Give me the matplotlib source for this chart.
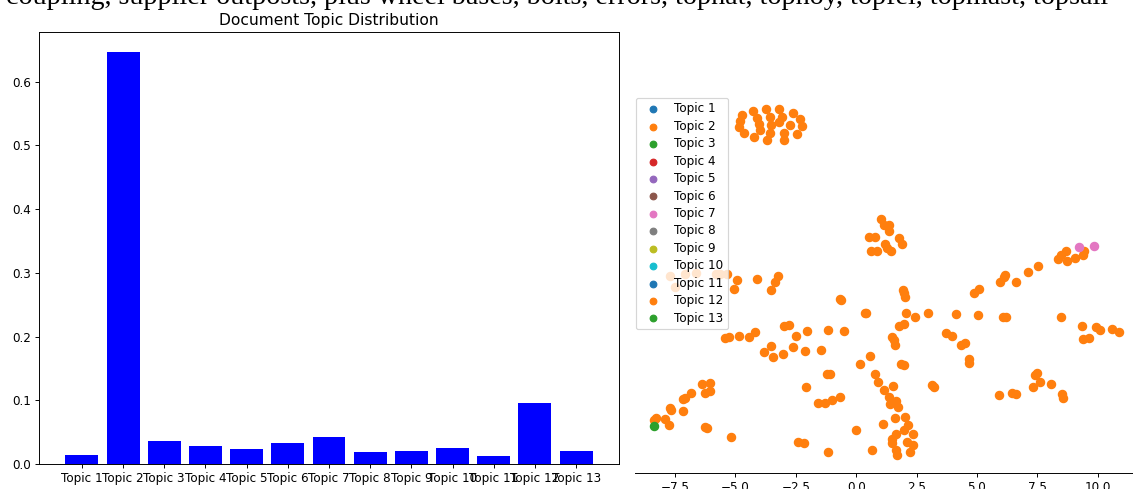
import numpy as np
import matplotlib
matplotlib.use("Agg")
import matplotlib.pyplot as plt
from matplotlib.ticker import MultipleLocator

# topic weights for the document
topics = [f"Topic {i}" for i in range(1, 14)]
weights = [0.0141, 0.6463, 0.0361, 0.0277, 0.0230, 0.0335, 0.0419,
           0.0188, 0.0204, 0.0246, 0.0126, 0.0962, 0.0204]

# 2-d embedding of the documents, grouped by dominant topic
topic2_x = [
    -4.73, -4.29, -3.75, -3.20, -2.62, -2.31, -2.24, -2.44, -3.00, -3.00, -2.76, -3.06,
    -3.20, -3.59, -3.51, -3.55, -3.69, -4.22, -4.64, -4.84, -4.80, -4.09, -4.04, -4.00,
    1.04, 1.16, 1.35, 1.34, 0.54, 0.77, 1.77, 1.89, 1.21, 1.27, 1.45, 0.63, 0.87,
    8.68, 8.47, 8.34, 8.71, 9.07, 9.41, 9.45, 7.51, 7.11, 6.18, 6.13, 5.94, 6.63, 5.07, 4.86,
    -7.70, -7.49, -7.08, -6.63, -5.80, -5.66, -5.34, -4.94, -5.08, -4.09, -3.23, -3.37, -3.53,
    -0.69, -0.62, 1.93, 1.96, 2.03, 0.35, 0.41, 2.08, 2.43, 2.98, 4.14, 5.04, 6.06, 6.20, 8.47,
    9.33, 9.91, 10.10, 10.61, 10.89, 9.41, 9.62,
    -3.00, -2.79, -2.03, -1.15, -0.50, -2.48, -2.62, -2.14, -1.46, -3.53, -3.82, -3.44, -3.05,
    -4.18, -4.46, -4.84, -5.45, -5.26,
    1.77, 1.99, 1.48, 1.55, 1.61, 3.73, 3.96, 4.33, 4.49, 4.69, 4.65, 0.55, 0.17, 1.84, 1.99,
    -1.21, -1.10, 0.76, 7.48, 7.41,
    -6.38, -6.07, -6.28, -6.05, -6.86, -7.11, -7.18, -7.73, -7.67, -7.16, -8.39, -8.28, -7.91,
    -7.77, -6.28, -6.18, -5.18,
    -2.06, -1.60, -1.31, -0.99, -0.68, -2.42, -2.15, -1.15, 0.01, 0.66,
    0.92, 1.13, 1.52, 1.34, 1.38, 1.64, 1.75, 1.61, 2.02, 2.13, 1.10, 1.99, 1.66, 1.50, 2.37,
    2.10, 1.50, 2.37, 1.64, 2.24, 1.68,
    3.13, 3.24, 5.91, 6.46, 6.60, 7.34, 7.59, 8.06, 8.53, 8.56,
]
topic2_y = [
    13.87, 14.05, 14.12, 14.12, 13.95, 13.71, 13.40, 13.10, 12.82, 13.14, 13.44, 13.80,
    13.57, 13.77, 13.44, 13.13, 12.82, 12.96, 13.14, 13.37, 13.61, 13.76, 13.51, 13.25,
    9.55, 9.32, 9.30, 9.07, 8.83, 8.83, 8.76, 8.52, 8.52, 8.36, 8.23, 8.23, 8.23,
    8.25, 8.07, 7.90, 7.83, 7.94, 8.07, 8.25, 7.61, 7.36, 7.25, 7.16, 6.96, 6.96, 6.67, 6.50,
    7.20, 6.76, 7.30, 7.34, 7.30, 7.30, 7.30, 7.03, 6.65, 7.07, 7.19, 6.96, 6.61,
    6.27, 6.23, 6.61, 6.49, 6.35, 5.66, 5.66, 5.67, 5.49, 5.66, 5.62, 5.59, 5.52, 5.49, 5.52,
    5.13, 5.09, 4.98, 5.00, 4.90, 4.60, 4.65,
    5.13, 5.18, 4.91, 4.96, 4.94, 4.71, 4.27, 4.09, 4.13, 4.29, 4.04, 3.85, 3.96,
    4.87, 4.68, 4.73, 4.64, 4.67,
    5.13, 5.20, 4.68, 4.55, 4.35, 4.86, 4.73, 4.36, 4.43, 3.78, 3.59, 3.88, 3.55, 3.56, 3.51,
    3.15, 3.13, 3.13, 3.17, 3.12,
    2.73, 2.79, 2.37, 2.43, 2.37, 2.14, 2.11, 1.74, 1.64, 1.61, 1.24, 1.31, 1.27,
    1.05, 0.94, 0.90, 0.52,
    2.59, 1.93, 1.93, 2.06, 2.21, 0.33, 0.30, -0.08, 0.84, -0.01,
    2.83, 2.48, 2.65, 2.21, 1.89, 2.03, 1.77, 1.34, 1.35, 1.05, 1.06, 0.83, 0.65, 0.44, 0.65,
    0.33, 0.28, 0.21, 0.00, -0.07, -0.22,
    2.68, 2.62, 2.26, 2.37, 2.33, 2.62, 2.83, 2.72, 2.32, 2.14,
]
topic3_x = [-8.36]
topic3_y = [1.01]
topic7_x = [9.23, 9.84]
topic7_y = [8.39, 8.46]

points = {2: (topic2_x, topic2_y), 3: (topic3_x, topic3_y), 7: (topic7_x, topic7_y)}
header = ("coupling, supplier outposts, plus wheel bases, bolts, errors, "
          "tophat, tophoy, topfel, topmast, topsail")

W, H = 1133, 489
DPI = 86
fig = plt.figure(figsize=(W / DPI, H / DPI), dpi=DPI)

# line of text running above the plots, cut at the top edge
fig.text(0.005, 1 - 4.5 / H, header, family="Liberation Serif", fontsize=23.5,
         va="baseline", ha="left")

ax1 = fig.add_axes([39 / W, 1 - 464 / H, 580 / W, 432.3 / H])
ax1.bar(topics, weights, color="blue")
ax1.set_title("Document Topic Distribution", fontsize=13)

ax2 = fig.add_axes([635 / W, 1 - 472.7 / H, 1 - 635 / W, 441 / H])
colors = plt.rcParams["axes.prop_cycle"].by_key()["color"]
for i, name in enumerate(topics, start=1):
    xs, ys = points.get(i, ([], []))
    ax2.scatter(xs, ys, color=colors[(i - 1) % len(colors)], label=name, s=48)
ax2.set_xlim(-9.16, 11.46)
ax2.set_ylim(-0.94, 17.32)
ax2.xaxis.set_major_locator(MultipleLocator(2.5))
ax2.set_yticks([])
for side in ("top", "left", "right"):
    ax2.spines[side].set_visible(False)
ax2.legend(loc="upper left", bbox_to_anchor=(636 / W, 1 - 97.7 / H),
           bbox_transform=fig.transFigure, borderaxespad=0, markerscale=0.8,
           fontsize=10, labelspacing=0.37)

fig.savefig("out.png", dpi=DPI)
